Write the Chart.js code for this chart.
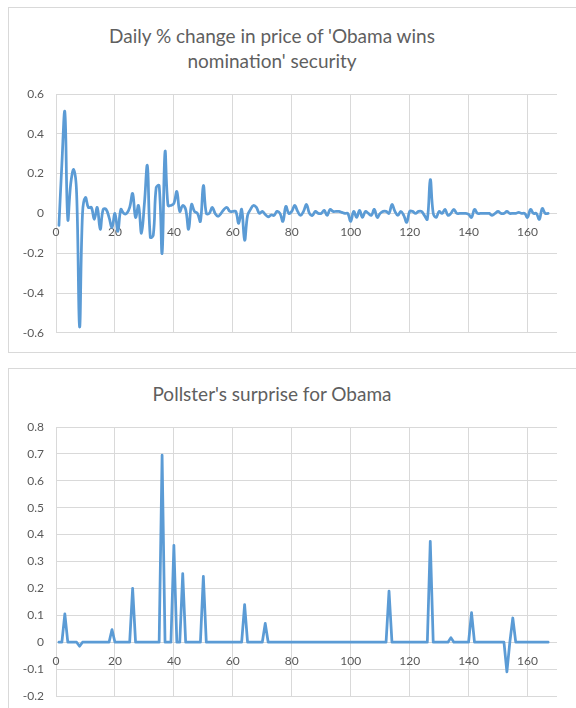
<!DOCTYPE html>
<html>
<head>
<meta charset="utf-8">
<script src="https://cdn.jsdelivr.net/npm/chart.js@4.4.1/dist/chart.umd.min.js"></script>
<style>
    body { margin: 0; background: #fff; width: 576px; height: 708px; overflow: hidden; position: relative; font-family: Lato, sans-serif; }
    .frame { position: absolute; left: 8px; width: 600px; border: 1px solid #d9d9d9; box-sizing: border-box; }
    .title { position: absolute; left: 8px; width: 528px; text-align: center; color: #5f5f5f; font-size: 19px; line-height: 25px; }
    canvas { position: absolute; left: 8px; }
</style>
</head>
<body>
<div class="frame" style="top:7px;height:346px"></div>
<div class="frame" style="top:368px;height:360px"></div>
<div class="title" style="top:23px">Daily % change in price of 'Obama wins<br>nomination' security</div>
<div class="title" style="top:381px">Pollster's surprise for Obama</div>
<canvas id="priceChart" width="568" height="345" style="top:7px"></canvas>
<canvas id="pollChart" width="568" height="360" style="top:368px"></canvas>
<script>
// Day numbers on the x axis
const days = Array.from({ length: 167 }, (_, i) => i + 1);

// Daily % change in price of the 'Obama wins nomination' security
const priceChange = [
    -0.06, 0.25, 0.51, -0.03, 0.15, 0.22, 0.1, -0.57, 0.0, 0.08,
    0.03, 0.03, -0.03, 0.03, -0.08, 0.02, 0.02, -0.02, -0.07, 0.0,
    -0.09, 0.02, 0.0, 0.0, 0.03, 0.1, -0.02, 0.04, -0.1, 0.05,
    0.24, -0.12, -0.11, 0.13, 0.14, -0.2, 0.31, 0.04, 0.04, 0.05,
    0.11, 0.01, 0.04, 0.02, -0.08, 0.045, 0.01, 0.0, -0.04, 0.14,
    0.0, 0.0, 0.03, 0.0, -0.015, 0.0, 0.02, 0.03, 0.01, 0.01,
    0.01, -0.05, 0.02, -0.135, -0.01, 0.02, 0.04, 0.03, 0.0, 0.01,
    -0.005, -0.017, -0.008, -0.01, 0.01, 0.0, -0.04, 0.035, 0.0, 0.01,
    0.04, 0.01, -0.01, 0.01, 0.045, 0.0, -0.01, 0.01, 0.0, 0.0,
    0.015, -0.01, 0.02, 0.01, 0.01, 0.01, 0.005, 0.0, 0.0, -0.04,
    0.01, -0.02, 0.015, -0.02, 0.01, 0.0, -0.01, 0.02, -0.02, 0.0,
    0.01, 0.01, 0.0, 0.045, 0.01, -0.01, 0.01, -0.01, -0.045, 0.01,
    0.01, 0.0, 0.01, 0.01, -0.01, -0.03, 0.17, 0.0, -0.02, 0.01,
    0.0, 0.02, -0.01, 0.0, 0.02, 0.0, 0.0, 0.0, 0.0, -0.005,
    -0.02, 0.02, 0.0, 0.0, 0.0, 0.0, 0.0, -0.01, 0.0, 0.01,
    0.0, 0.0, 0.01, 0.0, 0.0, 0.0, 0.005, 0.0, 0.0, -0.02,
    0.02, 0.0, 0.0, -0.03, 0.025, 0.0, 0.0
];

// Pollster's surprise for Obama
const pollSurprise = [
    0, 0, 0.105, 0, 0, 0, 0, -0.015, 0, 0,
    0, 0, 0, 0, 0, 0, 0, 0, 0.047, 0,
    0, 0, 0, 0, 0, 0.2, 0, 0, 0, 0,
    0, 0, 0, 0, 0, 0.695, 0, 0, 0, 0.36,
    0, 0, 0.255, 0, 0, 0, 0, 0, 0, 0.245,
    0, 0, 0, 0, 0, 0, 0, 0, 0, 0,
    0, 0, 0, 0.14, 0, 0, 0, 0, 0, 0,
    0.07, 0, 0, 0, 0, 0, 0, 0, 0, 0,
    0, 0, 0, 0, 0, 0, 0, 0, 0, 0,
    0, 0, 0, 0, 0, 0, 0, 0, 0, 0,
    0, 0, 0, 0, 0, 0, 0, 0, 0, 0,
    0, 0, 0.19, 0, 0, 0, 0, 0, 0, 0,
    0, 0, 0, 0, 0, 0, 0.375, 0, 0, 0,
    0, 0, 0, 0.017, 0, 0, 0, 0, 0, 0,
    0.11, 0, 0, 0, 0, 0, 0, 0, 0, 0,
    0, 0, -0.11, 0, 0.09, 0, 0, 0, 0, 0,
    0, 0, 0, 0, 0, 0, 0
];

const gridColor = '#d9d9d9';
const textColor = '#595959';
const lineColor = '#5b9bd5';

// Shared chart setup, only the y range and smoothing differ
function makeChart(canvasId, values, yMin, yMax, yStep, tension, padTop, padBottom) {
    const ctx = document.getElementById(canvasId).getContext('2d');
    return new Chart(ctx, {
        type: 'line',
        data: {
            datasets: [{
                data: days.map((d, i) => ({ x: d, y: values[i] })),
                borderColor: lineColor,
                borderWidth: 2.75,
                borderJoinStyle: 'round',
                borderCapStyle: 'round',
                pointRadius: 0,
                tension: tension,
                fill: false
            }]
        },
        options: {
            responsive: false,
            animation: false,
            layout: { padding: { top: padTop, bottom: padBottom, left: 0, right: 19 } },
            plugins: { legend: { display: false }, tooltip: { enabled: false } },
            scales: {
                x: {
                    type: 'linear',
                    position: { y: 0 }, // axis crosses at zero like Excel
                    min: 0,
                    max: 170,
                    border: { display: false },
                    grid: { color: gridColor, drawTicks: false },
                    ticks: { stepSize: 20, includeBounds: false, padding: 12, maxRotation: 0, color: textColor, font: { family: 'Lato', size: 12 } }
                },
                y: {
                    min: yMin,
                    max: yMax,
                    border: { display: false },
                    grid: { color: gridColor, drawTicks: false },
                    ticks: { stepSize: yStep, padding: 12, color: textColor, font: { family: 'Lato', size: 12 } },
                    afterFit: scale => { scale.width = 48; }
                }
            }
        }
    });
}

makeChart('priceChart', priceChange, -0.6, 0.6, 0.2, 0.4, 87, 18);
makeChart('pollChart', pollSurprise, -0.2, 0.8, 0.1, 0, 59, 32);
</script>
</body>
</html>
